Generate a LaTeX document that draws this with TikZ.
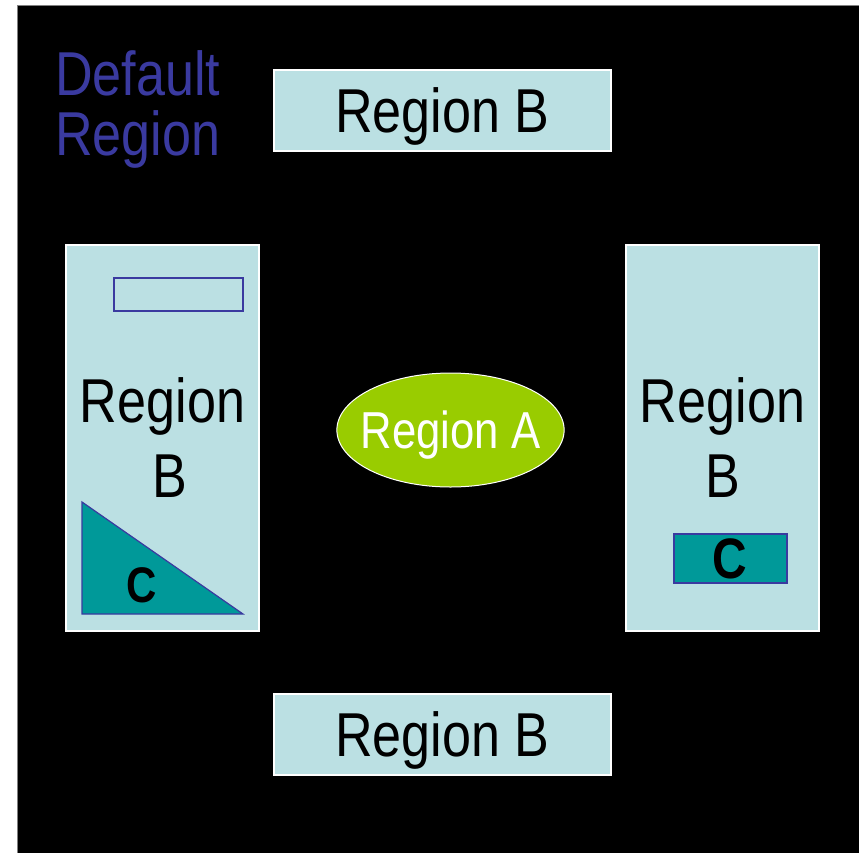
\documentclass[tikz,border=0pt]{standalone}
\usepackage{fontspec}
\setmainfont[FakeStretch=0.84]{Liberation Sans}
\usetikzlibrary{shapes.geometric}

\definecolor{paleblue}{HTML}{BBE0E3}
\definecolor{darkcyan}{HTML}{009999}
\definecolor{limegreen}{HTML}{99CC00}
\definecolor{inkblue}{HTML}{3A3AA0}

\tikzset{
  regionB/.style={rectangle,draw=white,line width=1.5pt,fill=paleblue,
    inner sep=0pt,text depth=0pt,align=center,
    font=\fontsize{62}{75}\selectfont},
  regionC/.style={draw=inkblue,line width=1.2pt,fill=darkcyan},
  labelC/.style={inner sep=0pt,text depth=0pt,font=\bfseries\fontsize{#1}{#1}\selectfont},
  labelC/.default=50
}

\begin{document}
\begin{tikzpicture}[x=1pt,y=-1pt]
  \useasboundingbox (0,0) rectangle (859,852);
  \fill[white] (0,0) rectangle (859,852);
  \draw[gray,fill=black] (17.5,5.5) rectangle (862,856);

  % default region label
  \node[anchor=base west,inner sep=0pt,align=left,text=inkblue,
    font=\fontsize{62}{60}\selectfont] (deflabel) at (55,155) {Default\\Region};

  % the four B regions
  \node[regionB,minimum width=337pt,minimum height=81pt] (topB) at (442.5,110.5) {Region B};
  \node[regionB,minimum width=337pt,minimum height=81pt] (botB) at (442.5,734.5) {Region B};
  \node[regionB,minimum width=193pt,minimum height=386pt] (leftB) at (162.5,438) {Region\\\hspace*{15pt}B};
  \node[regionB,minimum width=193pt,minimum height=386pt] (rightB) at (722.5,438) {Region\\B};

  % region A
  \node[ellipse,draw=white,line width=1pt,fill=limegreen,text=white,
    minimum height=114pt,inner xsep=-9.5pt,inner ysep=0pt,text depth=0pt,
    font=\fontsize{52}{52}\selectfont] (regA) at (450.5,430) {Region A};

  % shapes inside the left B
  \draw[inkblue,line width=1.2pt] (114,278) rectangle (243,311);
  \draw[regionC] (82,502) -- (82,614) -- (243,614) -- cycle;
  \node[labelC] (leftC) at (142,585) {C};

  % shape inside the right B
  \draw[regionC] (674,534) rectangle (787,583);
  \node[labelC=57] (rightC) at (730,558.5) {C};
\end{tikzpicture}
\end{document}
